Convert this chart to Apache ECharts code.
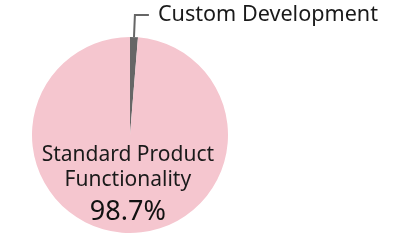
<!DOCTYPE html>
<html><head><meta charset="utf-8">
<script src="https://cdn.jsdelivr.net/npm/echarts@6/dist/echarts.min.js"></script>
<style>html,body{margin:0;padding:0;background:#fff}#c{width:410px;height:240px}</style>
</head><body><div id="c"></div>
<script>
const categories = ["Custom Development", "Standard Product Functionality"];
const values = [1.3, 98.7];
const colors = ["#666666", "#F5C6CF"];

const chart = echarts.init(document.getElementById('c'), null, {renderer: 'canvas'});
chart.setOption({
  animation: false,
  series: [{
    type: 'pie',
    center: [130, 135],
    radius: [0, 98],
    startAngle: 90,
    clockwise: true,
    silent: true,
    itemStyle: {borderWidth: 0},
    data: [
      {
        name: categories[0], value: values[0],
        itemStyle: {color: colors[0]},
        label: {show: true, position: 'outside', formatter: '{b}', color: '#1a1a1a',
          fontFamily: 'Noto Sans', fontSize: 21.6, padding: [2, 0, 0, 4]},
        labelLine: {show: true, length: 22, length2: 14, lineStyle: {color: '#666666', width: 2}}
      },
      {
        name: categories[1], value: values[1],
        itemStyle: {color: colors[1]},
        label: {show: true, position: 'inside',
          formatter: function (p) { return '{a|Standard Product}\n{a|Functionality}\n{b|' + p.value.toFixed(1) + '%}'; },
          rich: {
            a: {fontFamily: 'Noto Sans', fontSize: 21, lineHeight: 25, color: '#1a1a1a', align: 'center'},
            b: {fontFamily: 'Noto Sans', fontSize: 27, lineHeight: 39, color: '#111', align: 'center'}
          }
        },
        labelLine: {show: false}
      }
    ]
  }]
});
</script></body></html>
